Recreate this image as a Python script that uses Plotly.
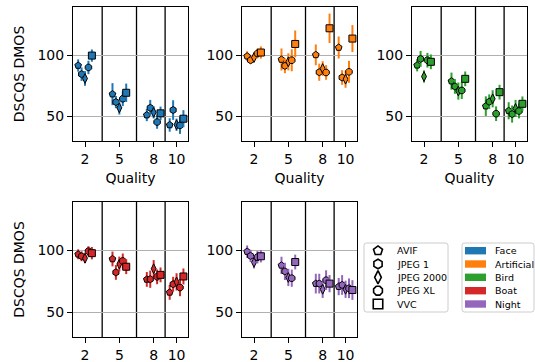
import plotly.graph_objects as go

# ---------------- data ----------------
qualities = [2, 5, 8, 10]
codecs = ["AVIF", "JPEG 1", "JPEG 2000", "JPEG XL", "VVC"]
contents = ["Face", "Artificial", "Bird", "Boat", "Night"]

face_mean = {"AVIF": [91.6, 68.2, 51.1, 43.0], "JPEG 1": [84.5, 61.7, 57.0, 55.2],
             "JPEG 2000": [81.0, 57.0, 53.3, 43.2], "JPEG XL": [90.0, 64.4, 45.4, 42.7],
             "VVC": [99.7, 69.3, 52.5, 48.1]}
face_err = {"AVIF": [5, 9, 5, 5.5], "JPEG 1": [5.5, 5, 6.5, 8],
            "JPEG 2000": [6, 5.5, 5, 5], "JPEG XL": [5.5, 6, 5.5, 7], "VVC": [5, 7.5, 5.5, 7]}

artificial_mean = {"AVIF": [99.2, 96.5, 100.3, 106.3], "JPEG 1": [95.9, 91.3, 86.1, 81.8],
                   "JPEG 2000": [98.1, 94.6, 89.1, 80.4], "JPEG XL": [101.4, 95.9, 85.9, 86.4],
                   "VVC": [102.2, 109.2, 122.0, 113.6]}
artificial_err = {"AVIF": [4, 9, 8.5, 9], "JPEG 1": [3, 6, 7, 6], "JPEG 2000": [3, 7, 6, 7],
                  "JPEG XL": [4, 9, 6, 9], "VVC": [5, 11, 12, 11]}

bird_mean = {"AVIF": [91.8, 78.8, 58.4, 54.6], "JPEG 1": [97.0, 74.5, 62.0, 51.9],
             "JPEG 2000": [82.6, 70.7, 64.4, 56.5], "JPEG XL": [95.9, 71.2, 52.2, 54.4],
             "VVC": [94.6, 80.7, 69.8, 60.3]}
bird_err = {"AVIF": [5, 7, 8, 7], "JPEG 1": [6.5, 6, 6, 7], "JPEG 2000": [5, 7, 7, 7],
            "JPEG XL": [6, 7, 6, 6], "VVC": [6, 6, 6, 6]}

boat_mean = {"AVIF": [97.0, 93.2, 76.6, 66.1], "JPEG 1": [95.4, 82.3, 76.8, 72.7],
             "JPEG 2000": [93.8, 89.1, 85.3, 74.6], "JPEG XL": [99.5, 91.6, 78.7, 70.0],
             "VVC": [97.9, 86.9, 80.3, 79.0]}
boat_err = {"AVIF": [4, 6, 6, 6], "JPEG 1": [4, 6, 7, 6], "JPEG 2000": [4, 6, 7, 7],
            "JPEG XL": [4, 6, 6, 7], "VVC": [5, 6, 6, 6.5]}

night_mean = {"AVIF": [99.2, 88.0, 73.2, 70.8], "JPEG 1": [95.7, 83.1, 73.2, 72.1],
              "JPEG 2000": [90.5, 78.2, 68.6, 68.6], "JPEG XL": [94.6, 77.6, 76.0, 69.4],
              "VVC": [95.4, 90.7, 73.2, 68.0]}
night_err = {"AVIF": [5, 7, 8, 7], "JPEG 1": [5, 7, 8, 8], "JPEG 2000": [5, 7, 7, 7],
             "JPEG XL": [5, 7, 8, 8], "VVC": [5, 6, 7, 8]}

means = [face_mean, artificial_mean, bird_mean, boat_mean, night_mean]
errs = [face_err, artificial_err, bird_err, boat_err, night_err]

xtick_vals = [2, 5, 8, 10]
ytick_vals = [50, 100]
separators = [3.5, 6.5, 9]

# ---------------- style ----------------
W, H = 535, 362
colors = ["#1f77b4", "#ff7f0e", "#2ca02c", "#d62728", "#9467bd"]
symbols = ["pentagon", "hexagon", "diamond-tall", "octagon", "square"]
offsets = [-0.6, -0.3, 0.0, 0.3, 0.6]
FONT = "DejaVu Sans"

def px(x):
    return x / W

def py(y):
    return 1 - y / H

col_x = [(73, 188), (242, 357), (412, 527)]
row_y = [(7, 141), (202, 337)]
positions = [(0, 0), (0, 1), (0, 2), (1, 0), (1, 1)]

fig = go.Figure()
layout = dict(
    width=W, height=H, margin=dict(l=0, r=0, t=0, b=0),
    paper_bgcolor="white", plot_bgcolor="rgba(0,0,0,0)",
    font=dict(family=FONT, size=14, color="black"),
    showlegend=False,
)
shapes = []
annotations = []

for i, content in enumerate(contents):
    r, c = positions[i]
    n = "" if i == 0 else str(i + 1)
    xa, ya = "x" + n, "y" + n
    x0, x1 = col_x[c]
    y0, y1 = row_y[r]
    layout["xaxis" + n] = dict(
        domain=[px(x0), px(x1)], anchor=ya, range=[0.95, 11.0],
        tickvals=xtick_vals, ticktext=[str(v) for v in xtick_vals],
        ticks="outside", ticklen=5, tickwidth=0.8, tickcolor="black",
        showline=True, linecolor="black", linewidth=1, mirror=True,
        showgrid=False, zeroline=False, tickfont=dict(size=14),
        title=dict(text="Quality" if r == 0 else "", standoff=7, font=dict(size=14)),
        automargin=False,
    )
    layout["yaxis" + n] = dict(
        domain=[py(y1), py(y0)], anchor=xa, range=[29.9, 139.4],
        tickvals=ytick_vals, ticks="outside", ticklen=5, tickwidth=0.8, tickcolor="black",
        showline=True, linecolor="black", linewidth=1, mirror=True,
        showgrid=True, gridcolor="#b0b0b0", gridwidth=0.8, zeroline=False,
        tickfont=dict(size=14),
        title=dict(text="DSCQS DMOS" if c == 0 else "", standoff=9, font=dict(size=14)),
        automargin=False,
    )
    for s in separators:
        shapes.append(dict(type="line", xref=xa, yref=ya + " domain", x0=s, x1=s, y0=0, y1=1,
                           line=dict(color="black", width=1.3), layer="below"))
    for k, codec in enumerate(codecs):
        fig.add_trace(go.Scatter(
            x=[q + offsets[k] for q in qualities], y=means[i][codec],
            error_y=dict(type="data", array=errs[i][codec], color=colors[i],
                         thickness=2, width=0),
            mode="markers", xaxis=xa, yaxis=ya, showlegend=False,
            marker=dict(symbol=symbols[k], size=7, color=colors[i],
                        line=dict(color="black", width=1)),
            name=codec,
        ))

# ---------------- legends (drawn manually) ----------------
def rounded_box(xl, yt, xr, yb, rad=2.5):
    X = lambda v: px(v)
    Y = lambda v: py(v)
    return (f"M {X(xl+rad)},{Y(yt)} L {X(xr-rad)},{Y(yt)} Q {X(xr)},{Y(yt)} {X(xr)},{Y(yt+rad)} "
            f"L {X(xr)},{Y(yb-rad)} Q {X(xr)},{Y(yb)} {X(xr-rad)},{Y(yb)} "
            f"L {X(xl+rad)},{Y(yb)} Q {X(xl)},{Y(yb)} {X(xl)},{Y(yb-rad)} "
            f"L {X(xl)},{Y(yt+rad)} Q {X(xl)},{Y(yt)} {X(xl+rad)},{Y(yt)} Z")

shapes.append(dict(type="path", xref="paper", yref="paper", path=rounded_box(364, 243, 448, 312),
                   line=dict(color="#cccccc", width=1), fillcolor="white", layer="below"))
shapes.append(dict(type="path", xref="paper", yref="paper", path=rounded_box(462, 243, 534, 312),
                   line=dict(color="#cccccc", width=1), fillcolor="white", layer="below"))

row_ys = [250.7, 264.0, 277.3, 290.7, 304.0]
layout["xaxis6"] = dict(domain=[0, 1], range=[0, W], visible=False, anchor="y6", fixedrange=True)
layout["yaxis6"] = dict(domain=[0, 1], range=[H, 0], visible=False, anchor="x6", fixedrange=True)
for k, codec in enumerate(codecs):
    fig.add_trace(go.Scatter(
        x=[378], y=[row_ys[k]], mode="markers", xaxis="x6", yaxis="y6", showlegend=False,
        marker=dict(symbol=symbols[k], size=9.5, color="white", line=dict(color="black", width=1.6)),
        hoverinfo="skip",
    ))
    annotations.append(dict(xref="paper", yref="paper", x=px(395), y=py(row_ys[k]), text=codec,
                            showarrow=False, xanchor="left", yanchor="middle",
                            font=dict(size=9.5, family=FONT, color="black")))
for i, content in enumerate(contents):
    shapes.append(dict(type="rect", xref="paper", yref="paper", x0=px(465), x1=px(486),
                       y0=py(row_ys[i] + 3.7), y1=py(row_ys[i] - 3.7),
                       fillcolor=colors[i], line=dict(width=0), layer="above"))
    annotations.append(dict(xref="paper", yref="paper", x=px(493), y=py(row_ys[i]), text=content,
                            showarrow=False, xanchor="left", yanchor="middle",
                            font=dict(size=9.5, family=FONT, color="black")))

layout["shapes"] = shapes
layout["annotations"] = annotations
fig.update_layout(**layout)
fig.write_html("out.html", post_script="document.body.style.margin='0px';",
               config={"displayModeBar": False})
